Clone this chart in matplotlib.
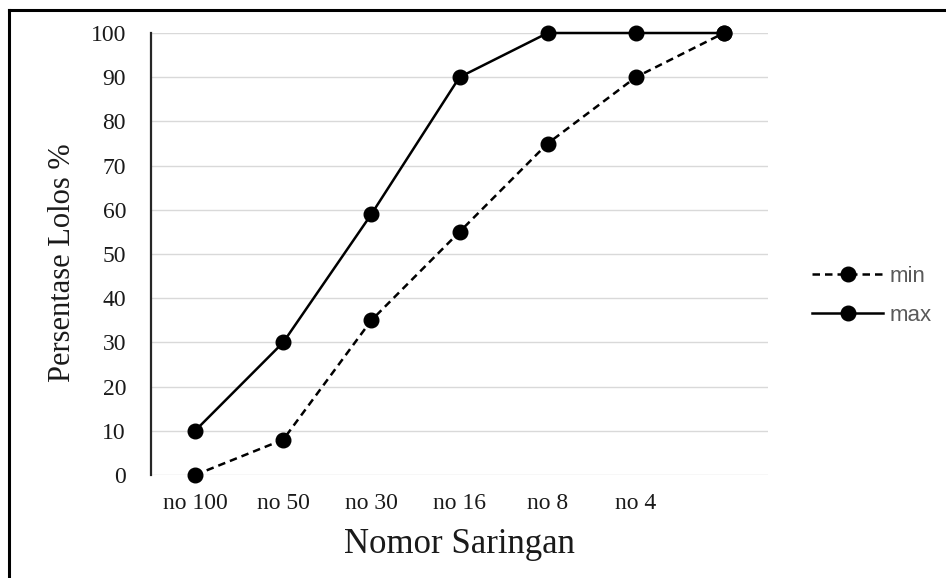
import matplotlib
matplotlib.use("Agg")
import matplotlib.pyplot as plt
from matplotlib.lines import Line2D

categories = ["no 100", "no 50", "no 30", "no 16", "no 8", "no 4", ""]
min_values = [0, 8, 35, 55, 75, 90, 100]
max_values = [10, 30, 59, 90, 100, 100, 100]
y_ticks = [0, 10, 20, 30, 40, 50, 60, 70, 80, 90, 100]

W, H = 946, 578
fig = plt.figure(figsize=(W / 100, H / 100), dpi=100)
ax = fig.add_axes([151 / W, 1 - 475 / H, (768 - 151) / W, (475 - 33) / H])

x = list(range(len(categories)))
serif = "Liberation Serif"

ax.plot(x, min_values, color="black", lw=1.8, ls=(0, (3, 2)), marker="o",
        markersize=10.5, label="min", clip_on=False, zorder=3)
ax.plot(x, max_values, color="black", lw=1.8, ls="-", marker="o",
        markersize=10.5, label="max", clip_on=False, zorder=3)

ax.set_xlim(-0.5, len(categories) - 0.5)
ax.set_ylim(0, 100)
ax.set_yticks(y_ticks)
ax.set_xticks(x)
ax.set_xticklabels(categories)

for s in ["top", "right", "bottom"]:
    ax.spines[s].set_visible(False)
ax.spines["left"].set_color("#262626")
ax.spines["left"].set_linewidth(1.6)

ax.yaxis.grid(True, color="#d9d9d9", lw=1.0)
ax.set_axisbelow(True)
ax.tick_params(axis="both", length=0, labelsize=17, labelcolor="#1a1a1a")
ax.tick_params(axis="y", pad=18)
ax.tick_params(axis="x", pad=13)
for lab in ax.get_xticklabels() + ax.get_yticklabels():
    lab.set_fontfamily(serif)

ax.set_xlabel("Nomor Saringan", fontsize=25, family=serif, color="#1a1a1a", labelpad=10)
ax.set_ylabel("Persentase Lolos %", fontsize=22, family=serif, color="#1a1a1a",
              labelpad=10, y=0.48)

leg = fig.legend(loc="center left", bbox_to_anchor=(792 / W, 1 - 296 / H),
                 frameon=False, handlelength=3.2, handletextpad=0.3,
                 labelspacing=0.8, prop={"family": "Liberation Sans", "size": 16})
for t in leg.get_texts():
    t.set_color("#595959")

# page frame along the top and left edges
fig.add_artist(Line2D([9 / W, 1], [1 - 10 / H, 1 - 10 / H], color="black", lw=2.2,
                      transform=fig.transFigure))
fig.add_artist(Line2D([9 / W, 9 / W], [0, 1 - 10 / H], color="black", lw=2.2,
                      transform=fig.transFigure))

fig.savefig("out.png", dpi=100)
